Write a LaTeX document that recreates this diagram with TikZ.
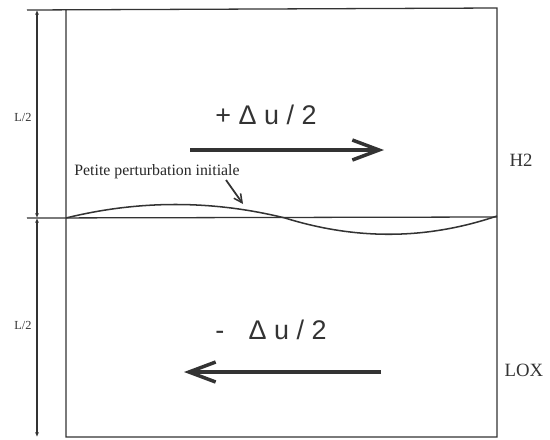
\documentclass[tikz,border=0pt]{standalone}
\usepackage{fontspec}
\setmainfont{Liberation Serif}
\newfontfamily\flowfont{Liberation Sans}
\usetikzlibrary{arrows.meta, positioning}
\tikzset{
  frame/.style={draw=black!80, line width=1.1pt},
  dim/.style={draw=black!80, line width=0.9pt, {Latex[length=1.4mm, width=1.2mm]}-{Latex[length=1.4mm, width=1.2mm]}},
  flow/.style={draw=black!80, line width=3.6pt, -{Straight Barb[length=8mm, width=6mm, line width=3pt]}},
  wave/.style={draw=black!80, line width=1.3pt},
  note/.style={-{Straight Barb[length=2.5mm, width=2.5mm, line width=1.3pt]}, draw=black!80, line width=1.5pt},
  speed/.style={font=\flowfont\fontsize{23}{26}\selectfont, text=black!80},
  fluid/.style={font=\fontsize{16}{18}\selectfont, text=black!80},
  half/.style={font=\fontsize{10.5}{12}\selectfont, text=black!80},
}
\begin{document}
\begin{tikzpicture}[x=0.03cm, y=-0.03cm]
\useasboundingbox (0,0) rectangle (550,439);
% contour du domaine
\coordinate (tl) at (27,10);
\coordinate (tr) at (497,8);
\coordinate (br) at (497,437);
\coordinate (bl) at (66,437);
\coordinate (bt) at (66,10);
\coordinate (ml) at (27,218);
\coordinate (mr) at (497,217);
\draw[frame] (tl) -- (tr) -- (br) -- (bl) -- (bt);
\draw[frame] (ml) -- (mr);

% cotes L/2
\coordinate (dtop) at (37,10);
\coordinate (dmid) at (37,218);
\coordinate (dbot) at (37,437);
\draw[dim] (dtop) -- (dmid);
\draw[dim] (dmid) -- (dbot);
\node[half] (lh) at (23,117) {L/2};
\node[half] (lb) at (23,325) {L/2};

% perturbation initiale
\coordinate (w0) at (66,218);
\coordinate (w1) at (285,218);
\coordinate (w2) at (497,216);
\draw[wave] (w0) .. controls (139,200) and (212,200) .. (w1)
                 .. controls (356,240) and (426,240) .. (w2);

\node[font=\fontsize{13.5}{15}\selectfont, text=black!85] (pert) at (157,172) {Petite perturbation initiale};
\coordinate (ptip) at (243,204);
\draw[note] (226,180) -- (ptip);

% ecoulements
\node[speed] (up) at (266,115) {+ Δ u / 2};
\coordinate (ua) at (190,150);
\coordinate (ub) at (384,150);
\draw[flow] (ua) -- (ub);

\node[speed] (down) at (271,330) {-\hspace{0.9em}Δ u / 2};
\coordinate (da) at (381,372);
\coordinate (db) at (184,372);
\draw[flow] (da) -- (db);

\node[fluid] (h2) at (521,160) {H2};
\node[fluid] (lox) at (524,370) {LOX};
\end{tikzpicture}
\end{document}
